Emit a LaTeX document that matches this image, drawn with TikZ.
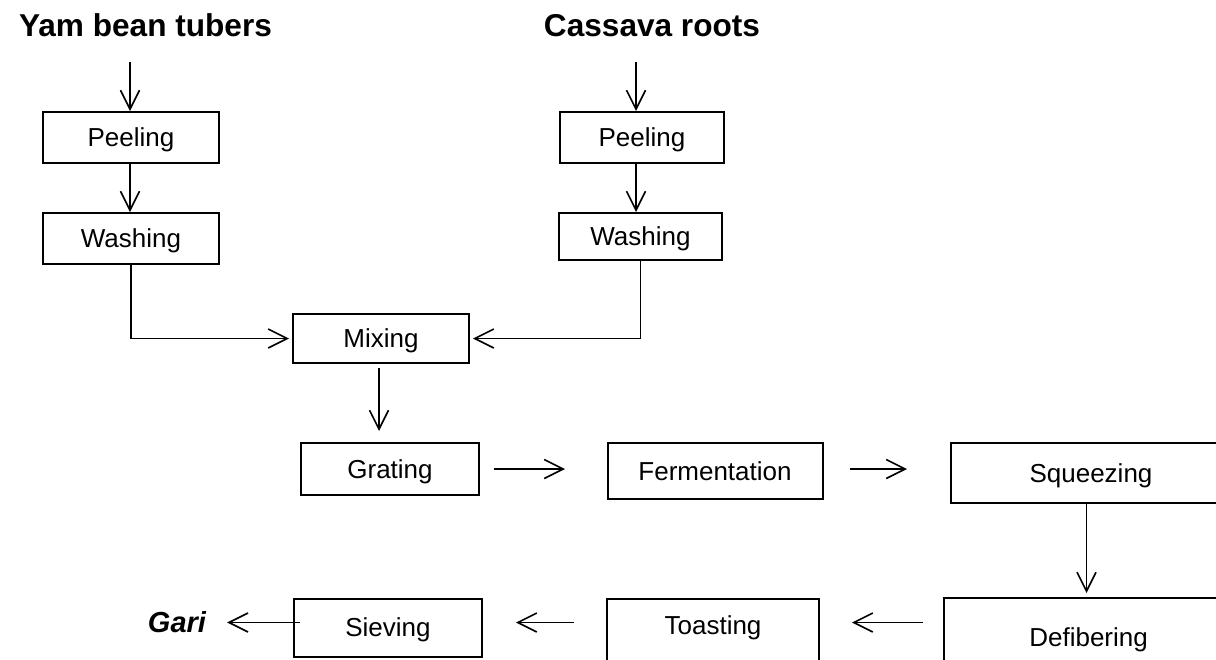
\documentclass[tikz,border=0pt]{standalone}
\usepackage{fontspec}
\setmainfont{Liberation Sans}
\usetikzlibrary{arrows.meta}
\begin{document}
\begin{tikzpicture}[x=1pt,y=-1pt,
  box/.style={draw, line width=2pt, inner sep=0pt, text height=18.7pt, text depth=0pt,
              font=\fontsize{26}{30}\selectfont},
  title/.style={inner sep=0pt, font=\fontsize{31.6}{36}\selectfont\bfseries},
  arr/.style={line width=1.6pt, -{Straight Barb[length=19pt,width=19pt,line width=1.6pt]}}]
\useasboundingbox (0,0) rectangle (1216,659);
\clip (0,0) rectangle (1216,659);
% titles
\node[title, anchor=base] (ytitle) at (145.5,36.7) {Yam bean tubers};
\node[title, anchor=base] (ctitle) at (652,36.7) {Cassava roots};
% boxes
\node[box, minimum width=176pt, minimum height=51pt] (ypeel) at (131,137.5) {Peeling};
\node[box, minimum width=176pt, minimum height=51pt] (ywash) at (131,238.5) {Washing};
\node[box, minimum width=164pt, minimum height=51pt] (cpeel) at (642,137.5) {Peeling};
\node[box, minimum width=163pt, minimum height=47pt] (cwash) at (640.5,236.5) {Washing};
\node[box, minimum width=176pt, minimum height=49pt] (mix) at (381,338.5) {Mixing};
\node[box, minimum width=178pt, minimum height=52pt] (grate) at (390,469) {Grating};
\node[box, minimum width=215pt, minimum height=56pt] (ferm) at (715,471) {Fermentation};
\node[box, minimum width=281pt, minimum height=60pt] (sq) at (1091,473) {Squeezing};
\node[box, minimum width=290pt, minimum height=78pt] (defib) at (1088.6,637) {Defibering};
\node[box, minimum width=212pt, minimum height=66pt, text depth=14pt] (toast) at (713,632) {Toasting};
\node[box, minimum width=188pt, minimum height=58pt] (sieve) at (388,627.5) {Sieving};
\node[inner sep=0pt, anchor=base, font=\fontsize{29}{32}\selectfont\bfseries\itshape] (gari) at (177,632) {Gari};
% free ends
\coordinate (ystart) at (130,62);
\coordinate (cstart) at (636,62);
\coordinate (rowb) at (0,622.5);
% connectors
\draw[arr] (ystart) -- (ystart |- ypeel.north);
\draw[arr] (ypeel.south -| ystart) -- (ywash.north -| ystart);
\draw[arr] (cstart) -- (cstart |- cpeel.north);
\draw[arr] (cpeel.south -| cstart) -- (cwash.north -| cstart);
\draw[arr, shorten >=3pt] (ywash.south) |- (mix.west);
\draw[arr, shorten >=3pt] (cwash.south) |- (mix.east);
\draw[arr, shorten <=4pt, shorten >=11pt] (mix.south -| 379,0) -- (grate.north -| 379,0);
\draw[arr, shorten <=13.5pt, shorten >=41.5pt] (grate.east |- 0,469) -- (ferm.west |- 0,469);
\draw[arr, shorten <=26pt, shorten >=42.5pt] (ferm.east |- 0,469) -- (sq.west |- 0,469);
\draw[arr, shorten >=4pt] (sq.south -| 1086.5,0) -- (defib.north -| 1086.5,0);
\draw[arr, shorten <=19.5pt, shorten >=32pt] (defib.west |- rowb) -- (toast.east |- rowb);
\draw[arr, shorten <=32pt, shorten >=33pt] (toast.west |- rowb) -- (sieve.east |- rowb);
\draw[arr, shorten <=-7pt, shorten >=21pt] (sieve.west |- rowb) -- (gari.east |- rowb);
\end{tikzpicture}
\end{document}
